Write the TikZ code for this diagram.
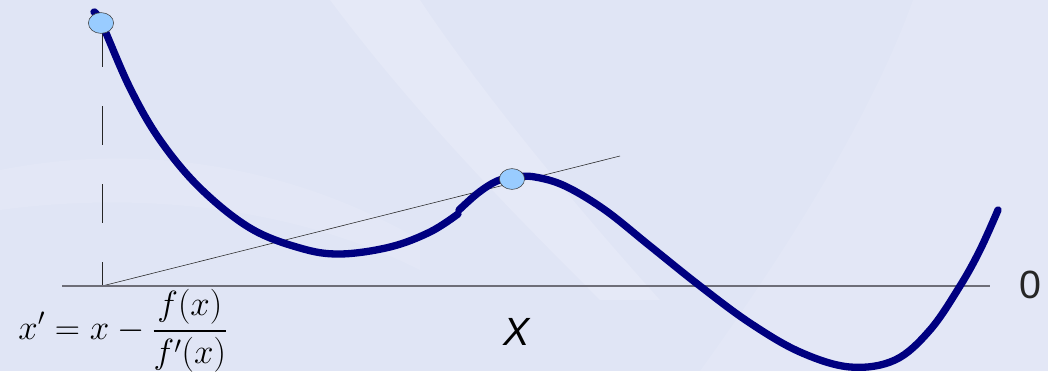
\documentclass[tikz,border=0pt]{standalone}
\usepackage{amsmath}
\usepackage{fontspec}
\usepackage{tikz}
\usetikzlibrary{shapes.geometric,positioning,calc}
\newfontfamily\labelfont{Liberation Sans}
\definecolor{bgblue}{RGB}{224,229,245}
\definecolor{bglight}{RGB}{234,237,249}
\definecolor{curvenavy}{RGB}{0,0,128}
\definecolor{ptfill}{RGB}{153,204,255}
\definecolor{axisgray}{RGB}{110,110,120}

\begin{document}
\begin{tikzpicture}[
    x=0.025cm, y=-0.025cm,
    pt/.style={ellipse, draw=black!75, fill=ptfill, thin, minimum width=0.63cm, minimum height=0.52cm, inner sep=0pt},
    fx/.style={line width=5.2pt, curvenavy, line cap=round},
    guide/.style={thin, black!85},
    axisline/.style={line width=1.1pt, axisgray}
]
    % background
    \fill[bgblue] (0,0) rectangle (1048,371);
    \useasboundingbox (0,0) rectangle (1048,371);
    \fill[bglight, opacity=0.5] (330,0) .. controls (420,120) and (520,220) .. (600,300) -- (660,300) .. controls (570,200) and (480,90) .. (420,0) -- cycle;
    \fill[bglight, opacity=0.3] (0,170) .. controls (150,140) and (300,170) .. (420,240) -- (420,270) .. controls (300,210) and (150,190) .. (0,210) -- cycle;
    \fill[bglight, opacity=0.3] (913,0) .. controls (870,120) and (780,260) .. (700,371) -- (1048,371) -- (1048,0) -- cycle;

    % reference points
    \coordinate (root) at (102,286);
    \coordinate (tanend) at (620,156);
    \coordinate (axL) at (62,286);
    \coordinate (axR) at (990,286);

    \draw[guide, dash pattern=on 0.97cm off 0.98cm] (102,28) -- (root);
    \draw[guide] (root) -- (tanend);
    \draw[axisline] (axL) -- (axR);

    % the function
    \draw[fx] plot[smooth, tension=0.6] coordinates {(94,12) (102,24) (130,88) (160,140) (200,188) (250,228) (300,248) (340,254) (390,247) (430,232) (458,214)};
    \draw[fx] plot[smooth, tension=0.6] coordinates {(459,210) (478,193) (497,181) (515,177) (535,177) (565,186) (605,210) (650,246) (700,286) (750,323) (800,352) (850,367) (895,360) (930,330) (960,286) (980,250) (998,210)};

    \node[pt] (start) at (101,23) {};
    \node[pt] (tan) at (512,179) {};

    % labels
    \node (newton) at (123,331) {\fontsize{24.5}{28}\selectfont$\displaystyle x' = x - \frac{f(x)}{f'(x)}$};
    \node (xlab) at (517,332) {\labelfont\itshape\fontsize{28}{32}\selectfont X};
    \node[text=black!85] (zero) at (1030,285) {\labelfont\fontsize{28}{32}\selectfont 0};
\end{tikzpicture}
\end{document}
